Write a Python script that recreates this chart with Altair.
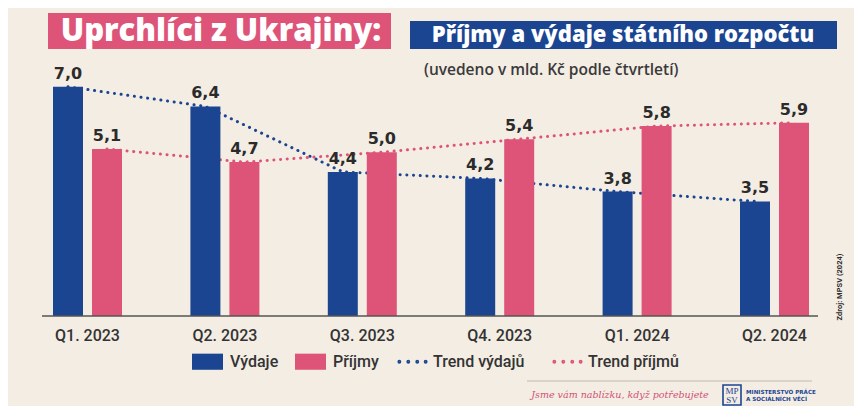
import altair as alt
import pandas as pd

# ---- data ----
quarters = ["Q1. 2023", "Q2. 2023", "Q3. 2023", "Q4. 2023", "Q1. 2024", "Q2. 2024"]
vydaje = [7.0, 6.4, 4.4, 4.2, 3.8, 3.5]
prijmy = [5.1, 4.7, 5.0, 5.4, 5.8, 5.9]
series_names = ["Výdaje", "Příjmy"]
trend_names = ["Trend výdajů", "Trend příjmů"]

BLUE = "#1b4591"
PINK = "#de5479"
DARK = "#2b2b2b"
BG = "#f4ede4"
COND = "Roboto"

rows = []
for q, v, p in zip(quarters, vydaje, prijmy):
    rows.append({"quarter": q, "series": series_names[0], "trend": trend_names[0],
                 "value": v, "label": f"{v:.1f}".replace(".", ",")})
    rows.append({"quarter": q, "series": series_names[1], "trend": trend_names[1],
                 "value": p, "label": f"{p:.1f}".replace(".", ",")})
df = pd.DataFrame(rows)

xs = alt.Scale(domain=quarters, paddingInner=0, paddingOuter=0.0786)
xos = alt.Scale(domain=series_names, paddingInner=0.2308, paddingOuter=0.877)
ys = alt.Scale(domain=[0, 8], nice=False, zero=True)

X = alt.X("quarter:N", scale=xs, sort=quarters,
          axis=alt.Axis(title=None, labelAngle=0, ticks=False, domain=False,
                        labelPadding=11, labelFontSize=16, labelFont=COND,
                        labelFontWeight=500, labelColor="#333333"))
XO = alt.XOffset("series:N", scale=xos, sort=series_names)
Y = alt.Y("value:Q", scale=ys, axis=None)

base = alt.Chart(df)

lines = base.mark_line(strokeDash=[0.1, 6.6], strokeCap="round", strokeWidth=3).encode(
    x=X, xOffset=XO, y=Y,
    stroke=alt.Stroke("trend:N", sort=trend_names,
                      scale=alt.Scale(domain=trend_names, range=[BLUE, PINK]),
                      legend=alt.Legend(title=None, orient="none", direction="horizontal",
                                        legendX=389, legendY=292,
                                        symbolType="M-1,0a0.06,0.06 0 1,0 0.12,0a0.06,0.06 0 1,0 -0.12,0M-0.36,0a0.06,0.06 0 1,0 0.12,0a0.06,0.06 0 1,0 -0.12,0M0.28,0a0.06,0.06 0 1,0 0.12,0a0.06,0.06 0 1,0 -0.12,0M0.88,0a0.06,0.06 0 1,0 0.12,0a0.06,0.06 0 1,0 -0.12,0",
                                        symbolSize=784, symbolStrokeWidth=2.2,
                                        labelFont=COND, labelFontSize=16, labelFontWeight=500,
                                        labelColor="#333333", labelOffset=5, columnPadding=24)),
    detail="series:N",
)

bars = base.mark_bar().encode(
    x=X, xOffset=XO, y=Y,
    color=alt.Color("series:N", sort=series_names,
                    scale=alt.Scale(domain=series_names, range=[BLUE, PINK]),
                    legend=alt.Legend(title=None, orient="none", direction="horizontal",
                                      legendX=184, legendY=292,
                                      symbolType="M-1,-0.52L1,-0.52L1,0.52L-1,0.52Z",
                                      symbolSize=961, symbolStrokeWidth=0,
                                      labelFont=COND, labelFontSize=16, labelFontWeight=500,
                                      labelColor="#333333", labelOffset=7, columnPadding=16)),
)

labels = base.mark_text(dy=-8, baseline="alphabetic", font="DejaVu Sans",
                        fontWeight="bold", fontSize=16, color=DARK).encode(
    x=X, xOffset=XO, y=Y, text="label:N"
)

one = pd.DataFrame({"k": [0]})
deco = alt.Chart(one)

baseline = deco.mark_rule(color="#555555", strokeWidth=1.5).encode(
    x=alt.value(34), x2=alt.value(810), y=alt.value(262)
)

pink_box = deco.mark_rect(color=PINK).encode(
    x=alt.value(40), x2=alt.value(383), y=alt.value(-41), y2=alt.value(-5))
blue_box = deco.mark_rect(color=BLUE).encode(
    x=alt.value(402), x2=alt.value(829), y=alt.value(-33), y2=alt.value(-5))
t1 = deco.mark_text(text="Uprchlíci z Ukrajiny:", font="Open Sans", fontWeight=800,
                    fontSize=31, color="white", align="center", baseline="middle").encode(
    x=alt.value(213), y=alt.value(-22))
t2 = deco.mark_text(text="Příjmy a výdaje státního rozpočtu", font="Open Sans", fontWeight=800,
                    fontSize=22, color="white", align="center", baseline="middle").encode(
    x=alt.value(615), y=alt.value(-19))
t3 = deco.mark_text(text="(uvedeno v mld. Kč podle čtvrtletí)", font="Open Sans", fontWeight=600,
                    fontSize=15.5, color="#3a3a3a", align="left", baseline="middle").encode(
    x=alt.value(416), y=alt.value(16))
src = deco.mark_text(text="Zdroj: MPSV (2024)", font="Roboto", fontWeight="bold",
                     fontSize=7.5, color=DARK, angle=270, align="center", baseline="middle").encode(
    x=alt.value(832), y=alt.value(233))
foot_line = deco.mark_rule(color="#d9d3cb", strokeWidth=2).encode(
    x=alt.value(519), x2=alt.value(804), y=alt.value(327))
slogan = deco.mark_text(text="Jsme vám nablízku, když potřebujete", font="DejaVu Serif",
                        fontStyle="italic", fontSize=9.5, color="#d24f76", align="center",
                        baseline="middle").encode(x=alt.value(612), y=alt.value(341))
logo_box = deco.mark_rect(fill="white", fillOpacity=0, stroke=BLUE, strokeWidth=1.6).encode(
    x=alt.value(715), x2=alt.value(733), y=alt.value(331), y2=alt.value(351))
logo_mp = deco.mark_text(text="MP", font="Liberation Serif", fontSize=9, color=BLUE,
                         align="center", baseline="middle").encode(x=alt.value(724), y=alt.value(336.5))
logo_sv = deco.mark_text(text="SV", font="Liberation Serif", fontSize=9, color=BLUE,
                         align="center", baseline="middle").encode(x=alt.value(724), y=alt.value(345.5))
min1 = deco.mark_text(text="MINISTERSTVO PRÁCE", font="DejaVu Sans", fontWeight="bold", fontSize=5.6,
                      color=BLUE, align="left", baseline="middle").encode(x=alt.value(738), y=alt.value(338))
min2 = deco.mark_text(text="A SOCIÁLNÍCH VĚCÍ", font="DejaVu Sans", fontWeight="bold", fontSize=5.6,
                      color=BLUE, align="left", baseline="middle").encode(x=alt.value(738), y=alt.value(345))

chart = alt.layer(
    lines, bars, labels, baseline,
    pink_box, blue_box, t1, t2, t3, src, foot_line, slogan,
    logo_box, logo_mp, logo_sv, min1, min2,
).properties(
    width=846, height=262,
    autosize=alt.AutoSizeParams(type="none"),
    padding={"left": 0, "top": 46, "right": 0, "bottom": 90},
).configure(background=BG).configure_view(stroke=None)

chart.save("out.html", embed_options={"renderer": "svg", "actions": False})
